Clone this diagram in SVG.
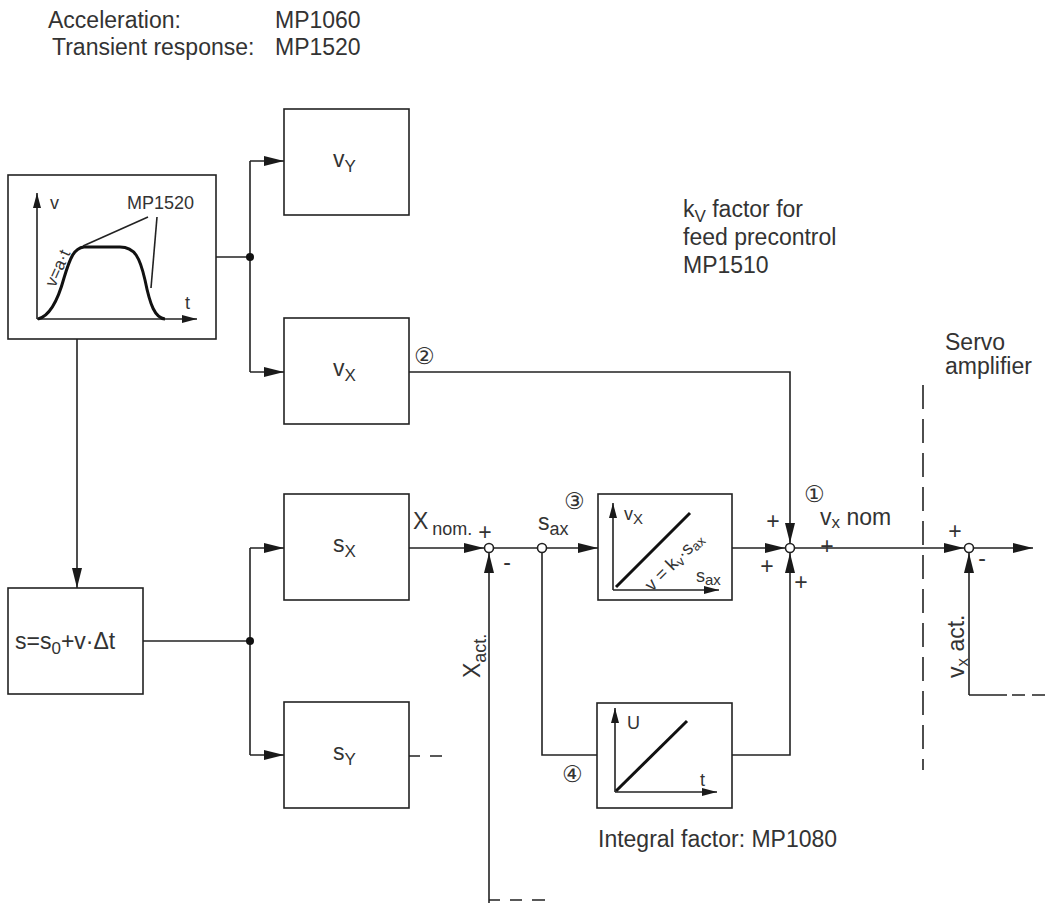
<svg xmlns="http://www.w3.org/2000/svg" width="1047" height="903" viewBox="0 0 1047 903">
<defs>
<marker id="arr" markerUnits="userSpaceOnUse" markerWidth="20" markerHeight="10" refX="20" refY="5" orient="auto"><path d="M0,0 L20,5 L0,10 z" fill="#1a1a1a"/></marker>
<marker id="arrs" markerUnits="userSpaceOnUse" markerWidth="15" markerHeight="8" refX="15" refY="4" orient="auto"><path d="M0,0 L15,4 L0,8 z" fill="#1a1a1a"/></marker>
<style>
text{font-family:"Liberation Sans",Arial,"Noto Sans CJK SC",sans-serif;fill:#333;font-size:23px}
.sm{font-size:18px}
.xs{font-size:17px}
.circ{font-family:"DejaVu Sans","Noto Sans CJK SC",sans-serif;font-size:23px}
.box{fill:#fff;stroke:#222;stroke-width:1.6}
.ln{fill:none;stroke:#222;stroke-width:1.6}
.thick{fill:none;stroke:#111;stroke-width:3}
.dash{fill:none;stroke:#222;stroke-width:1.6;stroke-dasharray:24 10}
.jc{fill:#fff;stroke:#222;stroke-width:1.6}
.dot{fill:#111}
</style>
</defs>
<rect width="1047" height="903" fill="#fff"/>

<g id="header">
<text x="48" y="28">Acceleration:</text>
<text x="275" y="28">MP1060</text>
<text x="52" y="55">Transient response:</text>
<text x="275" y="55">MP1520</text>
</g>

<g id="profile">
<rect class="box" x="8" y="175" width="208" height="164"/>
<line class="ln" x1="37" y1="319" x2="37" y2="193" marker-end="url(#arrs)"/>
<line class="ln" x1="37" y1="319" x2="197" y2="319" marker-end="url(#arrs)"/>
<path class="thick" d="M38,319 C50,316 58,300 64,278 C70,258 74,248 84,247 L120,247 C135,247 140,258 145,280 C150,305 155,318 165,319"/>
<line class="ln" stroke-width="1.2" x1="148" y1="217" x2="83" y2="246"/>
<line class="ln" stroke-width="1.2" x1="157" y1="217" x2="151" y2="288"/>
<text class="sm" x="50" y="209">v</text>
<text class="sm" x="185" y="309">t</text>
<text class="sm" x="127" y="209">MP1520</text>
<text class="xs" transform="translate(55,288) rotate(-66)">v=a·t</text>
</g>

<g id="vY">
<rect class="box" x="284" y="109" width="125" height="106"/>
<text x="333" y="167">v<tspan font-size="17" dy="5">Y</tspan></text>
</g>

<g id="vX">
<rect class="box" x="284" y="318" width="125" height="106"/>
<text x="333" y="376">v<tspan font-size="17" dy="5">X</tspan></text>
</g>

<g id="sX">
<rect class="box" x="284" y="494" width="125" height="106"/>
<text x="333" y="552">s<tspan font-size="17" dy="5">X</tspan></text>
</g>

<g id="sY">
<rect class="box" x="284" y="702" width="125" height="106"/>
<text x="333" y="760">s<tspan font-size="17" dy="5">Y</tspan></text>
</g>

<g id="integrator">
<rect class="box" x="8" y="588" width="135" height="106"/>
<text x="15" y="649">s=s<tspan font-size="17" dy="5">0</tspan><tspan dy="-5">+v·Δt</tspan></text>
</g>

<g id="kvbox">
<rect class="box" x="598" y="494" width="134" height="106"/>
<line class="ln" x1="613" y1="590" x2="613" y2="503" marker-end="url(#arrs)"/>
<line class="ln" x1="613" y1="590" x2="719" y2="590" marker-end="url(#arrs)"/>
<line class="thick" x1="616" y1="587" x2="690" y2="513"/>
<text class="sm" x="624" y="520">v<tspan font-size="15" dy="4">X</tspan></text>
<text class="sm" x="696" y="582">s<tspan font-size="15" dy="3">ax</tspan></text>
<text class="sm" transform="translate(652,592) rotate(-45)">v = k<tspan font-size="13" dy="3">v</tspan><tspan dy="-3">·s</tspan><tspan font-size="13" dy="3">ax</tspan></text>
</g>

<g id="ibox">
<rect class="box" x="597" y="703" width="135" height="105"/>
<line class="ln" x1="615" y1="792" x2="615" y2="708" marker-end="url(#arrs)"/>
<line class="ln" x1="615" y1="792" x2="717" y2="792" marker-end="url(#arrs)"/>
<line class="thick" x1="616" y1="791" x2="687" y2="721"/>
<text class="sm" x="627" y="729">U</text>
<text class="sm" x="700" y="786">t</text>
</g>

<g id="connectors">
<line class="ln" x1="216" y1="257" x2="250" y2="257"/>
<line class="ln" x1="250" y1="161" x2="250" y2="372"/>
<line class="ln" x1="250" y1="161" x2="284" y2="161" marker-end="url(#arr)"/>
<line class="ln" x1="250" y1="372" x2="284" y2="372" marker-end="url(#arr)"/>
<circle class="dot" cx="250" cy="257" r="4"/>
<line class="ln" x1="77" y1="339" x2="77" y2="588" marker-end="url(#arr)"/>
<line class="ln" x1="143" y1="641" x2="250" y2="641"/>
<line class="ln" x1="250" y1="548" x2="250" y2="755"/>
<line class="ln" x1="250" y1="548" x2="284" y2="548" marker-end="url(#arr)"/>
<line class="ln" x1="250" y1="755" x2="284" y2="755" marker-end="url(#arr)"/>
<circle class="dot" cx="250" cy="641" r="4"/>
<polyline class="ln" points="409,372 790,372 790,543" marker-end="url(#arr)"/>
<line class="ln" x1="409" y1="548" x2="484" y2="548" marker-end="url(#arr)"/>
<line class="ln" x1="493" y1="548" x2="538" y2="548"/>
<line class="ln" x1="546" y1="548" x2="598" y2="548" marker-end="url(#arr)"/>
<line class="ln" x1="489" y1="903" x2="489" y2="553" marker-end="url(#arr)"/>
<path class="ln" d="M489,900 H500 M510,900 H522 M532,900 H545"/>
<polyline class="ln" points="542,552 542,755 597,755"/>
<line class="ln" x1="732" y1="548" x2="785" y2="548" marker-end="url(#arr)"/>
<polyline class="ln" points="732,755 790,755 790,553" marker-end="url(#arr)"/>
<line class="ln" x1="795" y1="548" x2="964" y2="548" marker-end="url(#arr)"/>
<line class="ln" x1="974" y1="548" x2="1033" y2="548" marker-end="url(#arr)"/>
<line class="ln" x1="969" y1="695" x2="969" y2="553" marker-end="url(#arr)"/>
<path class="ln" d="M969,695 H1007 M1012,695 H1025 M1032,695 H1045"/>
<path class="ln" d="M409,756 H420 M430,756 H442"/>
<line class="dash" x1="923" y1="385" x2="923" y2="770"/>
<circle class="jc" cx="489" cy="548" r="4.5"/>
<circle class="jc" cx="542" cy="548" r="4.5"/>
<circle class="jc" cx="790" cy="548" r="4.5"/>
<circle class="jc" cx="969" cy="548" r="4.5"/>
</g>

<g id="labels">
<text x="683" y="217">k<tspan font-size="17" dy="5">V</tspan><tspan dy="-5"> factor for</tspan></text>
<text x="683" y="245">feed precontrol</text>
<text x="683" y="273">MP1510</text>
<text x="945" y="350">Servo</text>
<text x="945" y="374">amplifier</text>
<text class="circ" x="414" y="364">②</text>
<text class="circ" x="564" y="509">③</text>
<text class="circ" x="562" y="782">④</text>
<text class="circ" x="804" y="502">①</text>
<text x="413" y="529">X<tspan font-size="18" dx="4" dy="6">nom.</tspan></text>
<text x="485" y="540" text-anchor="middle" font-size="20">+</text>
<text x="507" y="570" text-anchor="middle" font-size="20">-</text>
<text x="538" y="530">s<tspan font-size="18" dy="5">ax</tspan></text>
<text transform="translate(480,678) rotate(-90)">X<tspan font-size="18" dy="6">act.</tspan></text>
<text x="820" y="525">v<tspan font-size="17" dy="3">x</tspan><tspan dy="-3"> nom</tspan></text>
<text x="773" y="529" text-anchor="middle" font-size="20">+</text>
<text x="827" y="554" text-anchor="middle" font-size="16">+</text>
<text x="767" y="574" text-anchor="middle" font-size="20">+</text>
<text x="801" y="590" text-anchor="middle" font-size="20">+</text>
<text x="955" y="539" text-anchor="middle" font-size="20">+</text>
<text x="982" y="566" text-anchor="middle" font-size="20">-</text>
<text transform="translate(964,678) rotate(-90)">v<tspan font-size="17" dy="4">x</tspan><tspan dy="-4"> act.</tspan></text>
<text x="598" y="847">Integral factor: MP1080</text>
</g>
</svg>
